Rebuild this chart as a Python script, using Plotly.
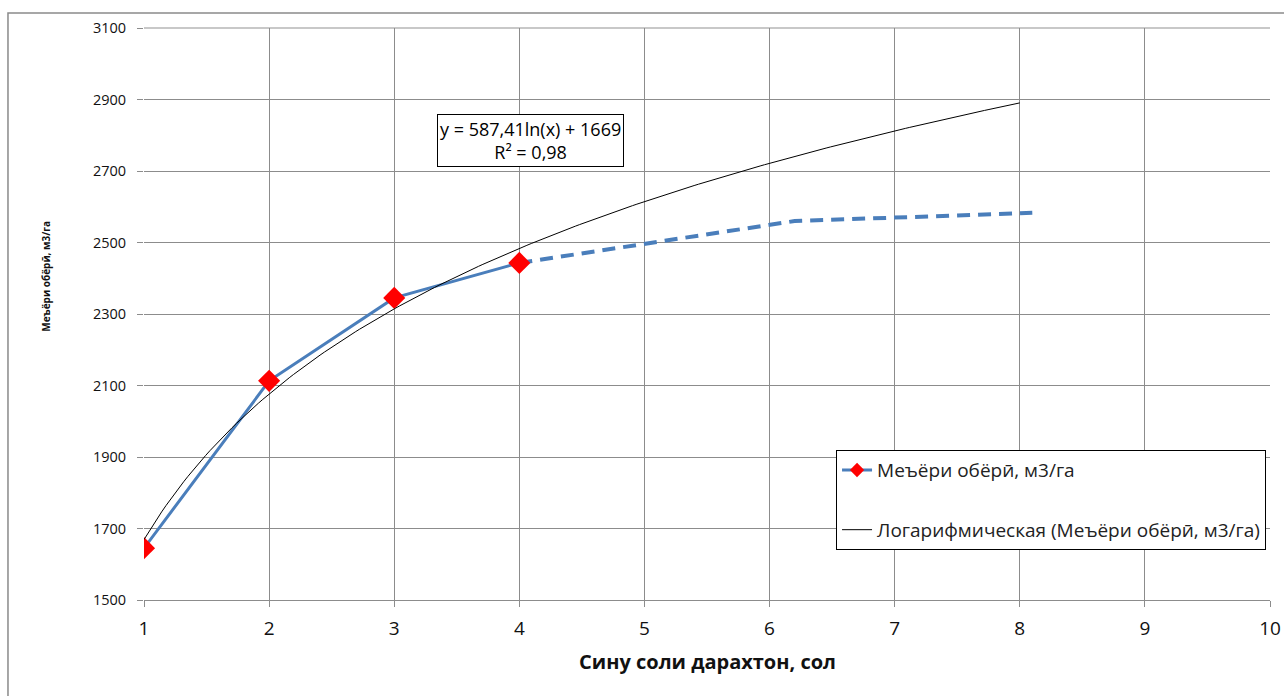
import numpy as np
import plotly.graph_objects as go

# Measured irrigation norm by plantation age
years = [1, 2, 3, 4]
norm_m3 = [1645, 2113, 2345, 2443]

# Projected continuation (dashed)
proj_years = [4, 6.2, 8.1]
proj_norm = [2443, 2560, 2583]

# Logarithmic trend coefficients: y = a*ln(x) + b
trend_a = 587.41
trend_b = 1669
trend_r2 = 0.98
trend_x_max = 8

x_ticks = [1, 2, 3, 4, 5, 6, 7, 8, 9, 10]
y_ticks = [1500, 1700, 1900, 2100, 2300, 2500, 2700, 2900, 3100]

series_name = "Меъёри обёрӣ, м3/га"
trend_name = "Логарифмическая (Меъёри обёрӣ, м3/га)"
x_title = "Сину соли дарахтон, сол"

FONT = "Open Sans"
BLUE = "#4a7ebb"

tx = np.linspace(1, trend_x_max, 200)
ty = trend_a * np.log(tx) + trend_b

fig = go.Figure()

fig.add_trace(go.Scatter(
    x=proj_years, y=proj_norm, mode="lines",
    line=dict(color=BLUE, width=4, dash="13px,8px"),
    showlegend=False, hoverinfo="skip",
))
fig.add_trace(go.Scatter(
    x=years, y=norm_m3, mode="lines+markers", name=series_name,
    line=dict(color=BLUE, width=3),
    marker=dict(symbol="diamond", size=17, color="#ff0000",
                line=dict(width=0)),
    legendgroup="a", showlegend=False,
))
# Legend entry for the measured series with a smaller marker
fig.add_trace(go.Scatter(
    x=[None], y=[None], mode="lines+markers", name=series_name,
    line=dict(color=BLUE, width=3),
    marker=dict(symbol="diamond", size=11, color="#ff0000",
                line=dict(width=0)),
    legendgroup="a",
))
fig.add_trace(go.Scatter(
    x=tx, y=ty, mode="lines", name=trend_name,
    line=dict(color="#000000", width=1),
    legendgroup="b",
))

fig.add_annotation(
    x=4.09, y=2784, xref="x", yref="y",
    text=f"y = {str(trend_a).replace('.', ',')}ln(x) + {trend_b}<br>R² = {str(trend_r2).replace('.', ',')}",
    showarrow=False, align="center",
    font=dict(family=FONT, size=18, color="#000000"),
    bgcolor="#ffffff", bordercolor="#000000", borderwidth=1, borderpad=2,
)

# Axis titles
fig.add_annotation(
    x=0.5, y=-0.108, xref="paper", yref="paper",
    text=f"<b>{x_title}</b>", showarrow=False,
    xanchor="center", yanchor="middle",
    font=dict(family=FONT, size=20, color="#111111"),
)
fig.add_annotation(
    x=-0.0866, y=0.566, xref="paper", yref="paper",
    text=f"<b>{series_name}</b>", showarrow=False, textangle=-90,
    xanchor="center", yanchor="middle",
    font=dict(family=FONT, size=10, color="#111111"),
)

# Outer chart frame
fig.add_shape(type="rect", xref="paper", yref="paper",
              x0=-0.1208, x1=1.05, y0=-0.3, y1=1.0262,
              line=dict(color="#8a8a8a", width=1.5), layer="below")
# Light top edge of the plot area
fig.add_shape(type="line", xref="paper", yref="paper",
              x0=0, x1=1, y0=1, y1=1,
              line=dict(color="#c8c8c8", width=2), layer="below")

fig.update_layout(
    width=1284, height=696,
    margin=dict(l=144, r=14, t=28, b=96, autoexpand=False),
    paper_bgcolor="#ffffff", plot_bgcolor="#ffffff",
    font=dict(family=FONT, color="#000000"),
    showlegend=True,
    legend=dict(
        x=0.6146, y=0.262, xanchor="left", yanchor="top",
        bgcolor="#ffffff", bordercolor="#000000", borderwidth=1,
        font=dict(family=FONT, size=19, color="#222222"),
        traceorder="grouped", tracegroupgap=32, itemwidth=30,
    ),
    xaxis=dict(
        range=[1, 10], tickvals=x_ticks, showgrid=True,
        gridcolor="#8c8c8c", gridwidth=1, automargin=False,
        showline=True, linecolor="#8c8c8c", linewidth=1,
        ticks="outside", ticklen=6, tickcolor="#8c8c8c",
        ticklabelstandoff=5,
        tickfont=dict(family=FONT, size=19, color="#111111"),
        zeroline=False,
    ),
    yaxis=dict(
        range=[1500, 3100], tickvals=y_ticks, showgrid=True,
        gridcolor="#8c8c8c", gridwidth=1, automargin=False,
        showline=False, mirror=False,
        ticks="outside", ticklen=6, tickcolor="#8c8c8c",
        ticklabelstandoff=8,
        tickfont=dict(family=FONT, size=14.5, color="#111111"),
        zeroline=False,
    ),
)

fig.write_html("out.html")
